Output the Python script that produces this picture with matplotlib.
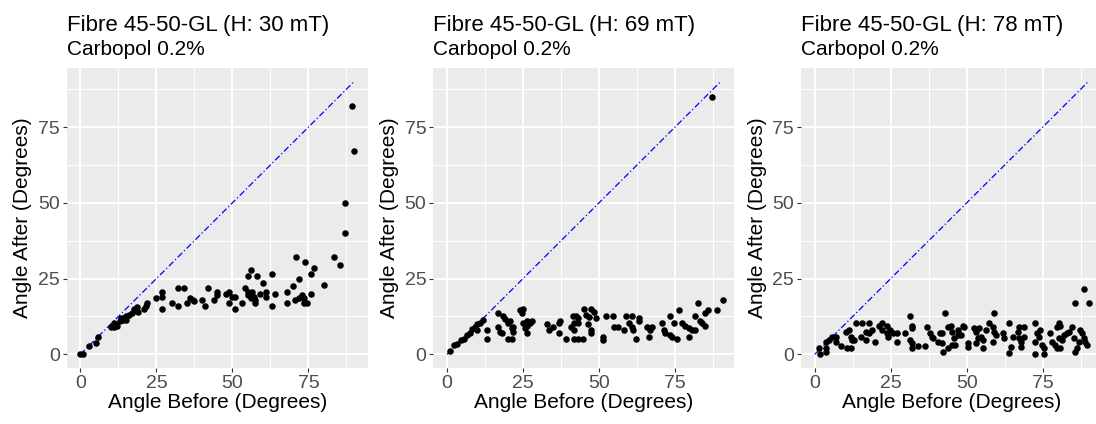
import matplotlib
matplotlib.use("Agg")
import matplotlib.pyplot as plt

# field strengths (mT) for the three panels
fields = [30, 69, 78]

# panel 1: H = 30 mT
before_30 = [0, 1, 2.8, 5, 5.8, 10, 10.5, 11, 11.5, 12, 11, 13, 14, 14.5, 15, 13.5, 16, 15,
             17, 18, 18.5, 19, 17.5, 21, 22, 21.5, 25, 27, 27, 27, 30, 32, 34, 32, 35, 36, 37, 37.5,
             40, 41, 42, 44, 45, 45, 48, 49, 49, 50, 51, 51, 53, 54, 55, 55, 56, 56.5, 57, 57.5, 57.5,
             55, 56, 58, 60, 59, 61, 61, 63, 64, 63, 68, 68, 70, 71, 70.5, 72, 72, 73, 73.5, 73.5,
             74.5, 74, 76, 77, 76, 80, 83.5, 85.5, 87, 87, 89.4, 90]
after_30 = [0, 0, 2.6, 3.7, 5.7, 9, 9.5, 9, 10, 9.5, 10.5, 11, 11.5, 12, 12.5, 12, 13, 11.5,
            13.5, 14.5, 15.5, 14, 15, 15, 17, 16, 18.5, 19, 20.5, 15, 17, 22, 22, 16, 17, 18.5, 18, 17.5,
            18, 16, 22, 18, 20.5, 19.5, 20, 20.5, 17, 19, 19, 15, 17, 22, 19.5, 20.5, 18.5, 20.5, 19, 18, 17,
            26, 28, 26, 23.7, 20, 20.7, 19, 26.6, 20, 16, 20.7, 17, 22.7, 32, 18, 18.5, 25, 19.5, 18.5, 17,
            17, 30.6, 26.6, 28.6, 20, 23, 32, 29.6, 40, 50, 82, 67]

# panel 2: H = 69 mT
before_69 = [1, 2.3, 3.3, 4.7, 5.5, 6.5, 7.5, 8.3, 9.3, 10, 10.7, 11.8, 10, 13, 13,
             16.8, 18.3, 19, 16.8, 17.3, 18, 20, 20.7, 21.3, 21.7, 21.7, 20, 21.3,
             24, 25, 24.7, 25, 26.3, 27.3, 28, 26.3, 25.7, 26.3,
             33, 33.4, 35, 36.7, 37.3, 36.7, 39,
             41.3, 42.3, 41.7, 40.7, 41.7, 43, 41.7, 43,
             45, 47.3, 45.7, 46.7, 48.3, 49, 43, 46.3, 47.3, 47.3, 44.7,
             51.3, 51.3, 52.3, 54.7, 55, 56.3,
             59, 60.7, 60, 60.7, 61.3, 58.3, 63, 63.3, 62.3,
             65.7, 66.7, 67.3, 66.3,
             70.7, 71.3, 71.7, 73.3, 74, 75.7, 73.3, 74.7,
             76.3, 77.3, 78.3, 79.7, 79.7, 80.7, 81.7,
             81.7, 82.7, 83.3, 84, 84.7, 85, 85.7,
             88.7, 90.7, 87.3]
after_69 = [1, 3, 3.5, 4.6, 5, 6.5, 7, 8.5, 9, 10, 10.5, 11.2, 8, 8, 5,
            13.8, 12.8, 11.8, 9, 7.3, 7, 10.3, 11, 8.6, 9, 7.3, 5, 5,
            14.5, 15, 13.5, 10.5, 11, 10.5, 11, 9.5, 8.6, 7,
            10, 8, 9, 10.3, 11, 7, 5,
            12.8, 12.8, 10.5, 9, 8, 12, 5, 5,
            15, 15, 13, 12.2, 14, 12, 10.5, 10, 8, 7, 5,
            5.6, 4.6, 12.8, 12.8, 9, 9,
            12.8, 12.8, 10.5, 9, 8, 8, 12, 11, 5,
            9, 8, 9, 5.6,
            10.5, 8, 7, 6.3, 5.6, 5, 12.8, 10.3,
            14.8, 10.5, 9.5, 8.6, 5.6, 8, 8,
            12.8, 16.8, 11, 10.3, 9.5, 13.8, 14.5,
            14.8, 17.8, 85]

# panel 3: H = 78 mT
before_78 = [1.6, 1.3, 3.6, 3.6, 3.6, 4.7, 5.7, 7, 7, 8.7,
             10.3, 11.3, 12, 12.3, 10.7, 12, 13.7, 15.7, 18,
             13, 15.3, 17, 17, 18.7, 18, 20,
             21.3, 22.3, 23.7, 22, 23.7, 24, 24.7, 25.7, 27, 27,
             29.7, 31.3, 32, 31.3, 32, 32, 32, 34, 36.3,
             37, 38.7, 39, 38, 40.7, 41.3, 44, 43, 42.3, 44, 42, 42,
             44.7, 45.3, 45.7, 45.3, 46.3, 47, 47.3, 48.7, 49, 48, 50.3, 50.3,
             52.3, 53, 54, 53.7, 53, 54.7, 55.3, 55.3, 56.3, 57.3, 58.7, 59, 59, 58.7, 59.7,
             62, 62.3, 64, 64.7, 65.3, 67, 67.3, 68, 68, 67.3, 68.7, 69, 64,
             72.3, 72.3, 73, 74, 73.7, 74.7, 75.3, 72.3, 75.3,
             77.3, 78, 79, 79.7, 80.3, 80.7, 80.3, 79.7, 80.7, 81.3, 82, 83, 83.7, 84.7,
             85.3, 85.7, 86.3, 87, 87.3, 88, 88.7, 89, 89.7, 85.7, 88.7, 90.3]
after_78 = [0, 2, 2, 0.7, 4, 4.6, 5.6, 5.6, 4, 2.6,
            7.3, 8, 5.6, 4.6, 2, 2, 10.5, 10.5, 10.5,
            4.6, 5.6, 4.6, 7.3, 8, 7, 4,
            9.5, 10.3, 9.5, 8, 7, 5.6, 8, 7, 7, 4,
            7, 4.6, 3.6, 12.8, 9.5, 8.6, 2, 2.6, 2.6,
            9, 5.6, 5.3, 7, 4, 7, 9, 13.5, 0.7, 2, 7, 3.6,
            9.5, 7.3, 5.3, 3, 3, 6.3, 8, 9.5, 9, 6.3, 3.6, 2.3,
            8.6, 7.3, 8.6, 5.3, 3.6, 5.6, 4.6, 2, 8, 10.5, 9, 7.3, 13.5, 4, 6.3,
            7, 5.3, 10.5, 2.3, 5.6, 7.3, 5.3, 4, 2.3, 9, 9, 5.6, 0.3,
            10.3, 4, 7, 8, 5.6, 3, 2, 0, 0,
            7, 4, 3, 9, 10.3, 9.5, 5.3, 2, 2, 4.6, 6.3, 7, 7.3, 9,
            5.3, 0.7, 2, 4, 8, 7, 5.3, 4, 3, 16.8, 21.7, 16.8]

befores = [before_30, before_69, before_78]
afters = [after_30, after_69, after_78]

plt.rcParams['font.family'] = ['Liberation Sans', 'DejaVu Sans']

fig = plt.figure(figsize=(10.96, 4.24), dpi=100)
W, H = 1096.0, 424.0
lefts = [66.7, 433.3, 801.0]

for i in range(3):
    ax = fig.add_axes([lefts[i] / W, 1 - 368 / H, 301 / W, 300 / H])
    ax.set_facecolor('#EBEBEB')
    for s in ax.spines.values():
        s.set_visible(False)
    ax.set_xlim(-4.5, 94.5)
    ax.set_ylim(-4.5, 94.5)
    ax.set_xticks([0, 25, 50, 75])
    ax.set_yticks([0, 25, 50, 75])
    ax.set_xticks([12.5, 37.5, 62.5, 87.5], minor=True)
    ax.set_yticks([12.5, 37.5, 62.5, 87.5], minor=True)
    ax.grid(True, which='major', color='white', linewidth=1.4)
    ax.grid(True, which='minor', color='white', linewidth=0.7)
    ax.set_axisbelow(True)
    ax.tick_params(which='major', length=3, width=0.8, color='#333333',
                   labelsize=14, labelcolor='#4D4D4D', pad=2)
    ax.tick_params(which='minor', length=0)

    ax.plot([0, 90], [0, 90], color='blue', linestyle='-.', linewidth=0.9,
            dashes=(5, 2, 1, 2), zorder=2)
    ax.scatter(befores[i], afters[i], s=22, color='black', linewidths=0, zorder=3)

    ax.set_xlabel('Angle Before (Degrees)', fontsize=15, labelpad=1)
    ax.set_ylabel('Angle After (Degrees)', fontsize=15, labelpad=4)
    ax.text(0.0, 1.123, 'Fibre 45-50-GL (H: %d mT)' % fields[i], transform=ax.transAxes,
            fontsize=16, va='baseline', ha='left')
    ax.text(0.0, 1.045, 'Carbopol 0.2%', transform=ax.transAxes,
            fontsize=15, va='baseline', ha='left')

fig.savefig('out.png', dpi=100)
